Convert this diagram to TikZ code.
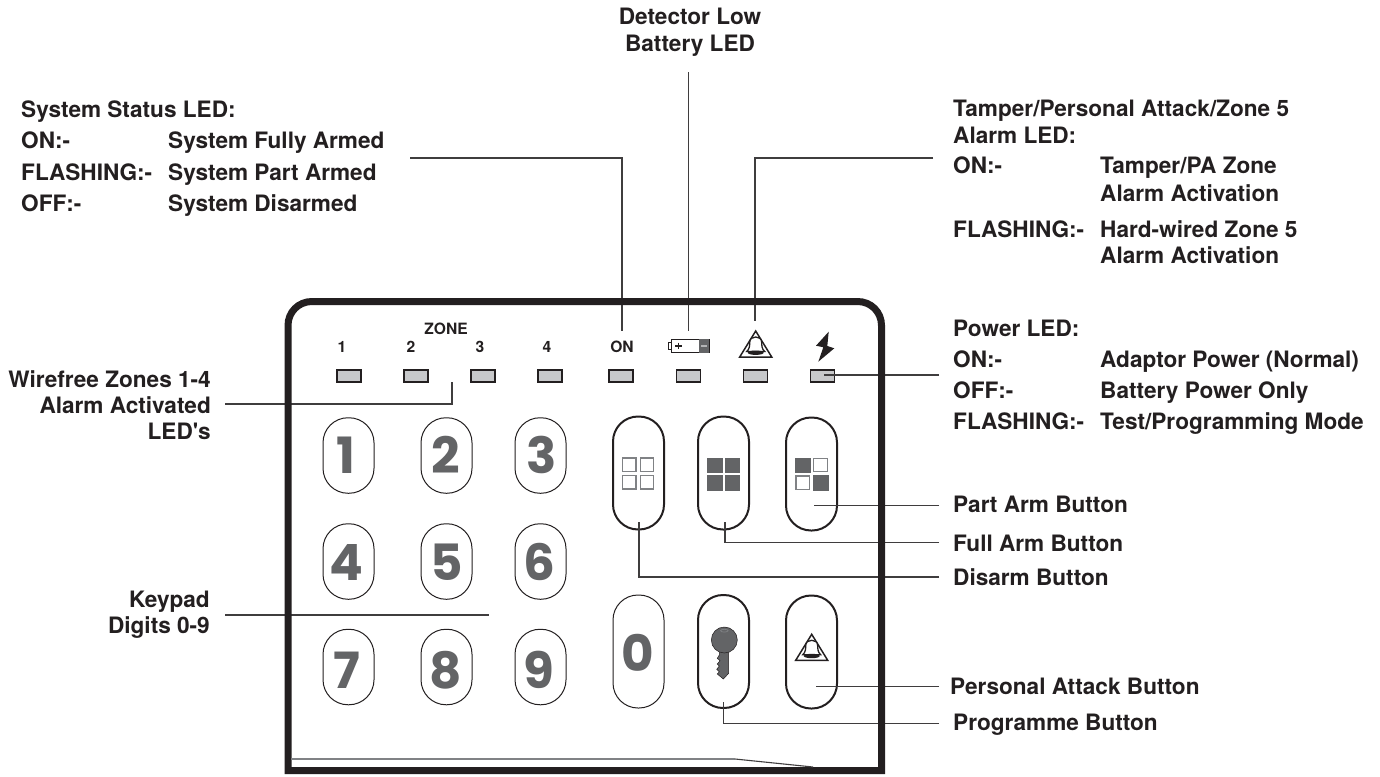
\documentclass[tikz,border=0pt]{standalone}
\usepackage{fontspec}
\newfontfamily\labfont{TeX Gyre Heros}
\newfontfamily\digitfont{Poppins}
\definecolor{ink}{HTML}{231F20}
\definecolor{digitgray}{HTML}{636466}
\definecolor{ledgray}{HTML}{C7C8CA}
\definecolor{leader}{HTML}{3F3D3E}
\definecolor{sq}{HTML}{808285}
\tikzset{
  lab/.style={anchor=base west,inner sep=0pt,text=ink,font=\fontsize{22.6}{24}\selectfont\labfont\bfseries},
  labr/.style={lab,anchor=base east},
  labc/.style={lab,anchor=base},
  small/.style={anchor=base,inner sep=0pt,text=ink,font=\fontsize{15.6}{17}\selectfont\labfont\bfseries},
  led/.style={draw=ink,fill=ledgray,line width=1.8pt,minimum width=24pt,minimum height=12.5pt,inner sep=0pt},
  keyoval/.style={draw=ink,line width=1pt,fill=white,minimum width=51pt,minimum height=75.5pt,inner sep=0pt,rounded corners=25pt},
  tallthin/.style={draw=ink,line width=1pt,fill=white,minimum width=51pt,minimum height=113pt,inner sep=0pt,rounded corners=25pt},
  tallthick/.style={tallthin,line width=2pt},
  digit/.style={anchor=base,inner sep=0pt,text=digitgray,font=\fontsize{50}{50}\selectfont\digitfont\bfseries},
  conn/.style={draw=leader,line width=1.3pt},
  sqopen/.style={draw=sq,fill=white,line width=1.2pt,minimum size=13.4pt,inner sep=0pt},
  sqfull/.style={draw=digitgray,fill=digitgray,line width=.4pt,minimum size=14.6pt,inner sep=0pt},
  alarm/.pic={
    \draw[ink,line width=1.5pt,fill=white,line join=miter] (0,0) -- (16,26) -- (-16,26) -- cycle;
    \draw[ink,line width=1.3pt,fill=white] (-9,20.5) .. controls (-6,18) and (-6,14) .. (-6,11.5) .. controls (-6,7.5) and (-3,6) .. (0,6) .. controls (3,6) and (6,7.5) .. (6,11.5) .. controls (6,14) and (6,18) .. (9,20.5) -- cycle;
    \fill[ink] (0,21.7) ellipse (8pt and 2.2pt);
  }
}
\begin{document}
\begin{tikzpicture}[x=1pt,y=-1pt]
\useasboundingbox (0,0) rectangle (1380,776);
\fill[white] (0,0) rectangle (1380,776);

% free ends of the connectors
\coordinate (cStatusL) at (410,158);
\coordinate (cStatusE) at (622,331);
\coordinate (cBatT) at (688.3,72);
\coordinate (cBatE) at (688.3,331);
\coordinate (cTamperR) at (933,158);
\coordinate (cTamperE) at (755,321);
\coordinate (cPowerR) at (939,375);
\coordinate (cPowerE) at (824,375);
\coordinate (cZoneL) at (225,404);
\coordinate (cZoneE) at (452,382);
\coordinate (cPadL) at (225,615);
\coordinate (cPadE) at (489,615);
\coordinate (cPartR) at (939,505.7);
\coordinate (cPartE) at (813.5,505.7);
\coordinate (cFullR) at (939,542.7);
\coordinate (cFullE) at (725,521.7);
\coordinate (cDisR) at (939,577);
\coordinate (cDisE) at (639,521.7);
\coordinate (cPersR) at (939,686.7);
\coordinate (cPersE) at (816,686.7);
\coordinate (cProgR) at (939,723.3);
\coordinate (cProgE) at (723.5,702);

% keys
\node[keyoval] (k1) at (348.5,455.5) {};
\node[keyoval] (k2) at (446.5,455.5) {};
\node[keyoval] (k3) at (540.5,455.5) {};
\node[keyoval] (k4) at (348.5,561.5) {};
\node[keyoval] (k5) at (446.5,561.5) {};
\node[keyoval] (k6) at (540.5,561.5) {};
\node[keyoval] (k7) at (348.5,667) {};
\node[keyoval] (k8) at (446.5,667) {};
\node[keyoval] (k9) at (540.5,667) {};
\node[tallthin] (k0) at (638.5,651.5) {};
\node[tallthick] (bProg) at (723.5,651.5) {};
\node[tallthick] (bPers) at (811.5,652) {};
\node[tallthick] (bDis) at (638.5,473) {};
\node[tallthick] (bFull) at (723.5,473) {};
\node[tallthick] (bPart) at (811.5,474) {};

\node[digit] (d1) at (345.7,473) {1};
\node[digit] (d2) at (446,473) {2};
\node[digit] (d3) at (541.7,473) {3};
\node[digit] (d4) at (346,580) {4};
\node[digit] (d5) at (446.7,580) {5};
\node[digit] (d6) at (539,580) {6};
\node[digit] (d7) at (346.7,688) {7};
\node[digit] (d8) at (446,688) {8};
\node[digit] (d9) at (539,688) {9};
\node[digit] (d0) at (638,671.7) {0};

% squares on the arm buttons
\node[sqopen] (s1) at (629.3,464.6) {};
\node[sqopen] (s2) at (647,464.6) {};
\node[sqopen] (s3) at (629.3,482.3) {};
\node[sqopen] (s4) at (647,482.3) {};
\node[sqfull] (s5) at (714.6,465) {};
\node[sqfull] (s6) at (732.3,465) {};
\node[sqfull] (s7) at (714.6,482.6) {};
\node[sqfull] (s8) at (732.3,482.6) {};
\node[sqfull] (s9) at (802.6,465) {};
\node[sqopen] (s10) at (820.5,465) {};
\node[sqopen] (s11) at (802.6,482.6) {};
\node[sqfull] (s12) at (820.5,482.6) {};

% key symbol
\fill[digitgray,draw=ink,line width=.5pt] (728.7,650) -- (728.7,673.3) -- (723.3,679) -- (717.3,674) -- (719.3,671.7) -- (716.7,669.3) -- (719.3,666) -- (717.3,664) -- (720,660.7) -- (717.3,658.3) -- (719.3,655) -- (719.3,650) -- cycle;
\fill[digitgray,draw=ink,line width=.5pt] (724.3,640) circle (13pt);
\draw[sq,line width=.7pt] (724.3,630.7) ellipse (3.8pt and 1.4pt);

% bell symbols
\pic at (811.7,634.3) {alarm};
\pic at (755.7,331) {alarm};

% lightning
\fill[ink] (828.7,331.7) -- (816,345.7) -- (823.3,347.3) -- (818.3,361.7) -- (834.3,348.3) -- (827.3,346) -- cycle;

% battery
\draw[ink,line width=.8pt,fill=white] (668,342.7) rectangle (671,349.3);
\draw[ink,line width=.9pt,fill=white] (671,339.3) rectangle (709,352.7);
\fill[digitgray] (699.3,339.3) rectangle (709,352.7);
\fill[sq!60] (701,345) rectangle (707,347);
\draw[ink,line width=1.6pt] (675,345.7) -- (681.5,345.7) (678.3,342.5) -- (678.3,349);

% LEDs
\node[led] (l1) at (349,376) {};
\node[led] (l2) at (416,376) {};
\node[led] (l3) at (483,376) {};
\node[led] (l4) at (550,376) {};
\node[led] (l5) at (621,376) {};
\node[led] (l6) at (688.5,376) {};
\node[led] (l7) at (755.5,376) {};
\node[led] (l8) at (822.5,376) {};

% panel texts
\node[small] (tZone) at (446,334.5) {ZONE};
\node[small] (t1) at (342,352.5) {1};
\node[small] (t2) at (411,352.5) {2};
\node[small] (t3) at (480,352.5) {3};
\node[small] (t4) at (547,352.5) {4};
\node[small] (tOn) at (622,352.5) {ON};

% connectors
\draw[conn] (cStatusL) -| (cStatusE);
\draw[conn] (cBatT) -- (cBatE);
\draw[conn] (cTamperR) -| (cTamperE);
\draw[conn] (cPowerR) -- (cPowerE);
\draw[conn] (cZoneL) -| (cZoneE);
\draw[conn] (cPadL) -- (cPadE);
\draw[conn] (cPartR) -- (cPartE);
\draw[conn] (cFullR) -| (cFullE);
\draw[conn] (cDisR) -| (cDisE);
\draw[conn] (cPersR) -- (cPersE);
\draw[conn] (cProgR) -| (cProgE);

% case
\draw[ink,line width=7pt,line join=miter] (288,770.5) -- (288,325.5) .. controls (288,312) and (298.5,301.5) .. (312,301.5) -- (857.5,301.5) .. controls (871,301.5) and (881.5,312) .. (881.5,325.5) -- (881.5,770.5) -- cycle;
\draw[sq,line width=1.3pt] (291,759) -- (735,759);
\draw[leader,line width=1.1pt] (735,759) -- (813,767);

% labels
\node[labc] (lbD1) at (690,25) {Detector Low};
\node[labc] (lbD2) at (690,52) {Battery LED};

\node[lab] (a0) at (21,117) {System Status LED:};
\node[lab] (a1) at (21,148.5) {ON:-};
\node[lab] (a2) at (168,148.5) {System Fully Armed};
\node[lab] (a3) at (21,180.5) {FLASHING:-};
\node[lab] (a4) at (168,180.5) {System Part Armed};
\node[lab] (a5) at (21,211) {OFF:-};
\node[lab] (a6) at (168,211) {System Disarmed};

\node[labr] (w1) at (211,387.5) {Wirefree Zones 1-4};
\node[labr] (w2) at (211,413.5) {Alarm Activated};
\node[labr] (w3) at (211,439) {LED's};
\node[labr] (p1) at (210,607.5) {Keypad};
\node[labr] (p2) at (210,633.5) {Digits 0-9};

\node[lab] (b0) at (953,116.2) {Tamper/Personal Attack/Zone 5};
\node[lab] (b1) at (953,143.2) {Alarm LED:};
\node[lab] (b2) at (953,173.5) {ON:-};
\node[lab] (b3) at (1100,173.5) {Tamper/PA Zone};
\node[lab] (b4) at (1100,201) {Alarm Activation};
\node[lab] (b5) at (953,237.5) {FLASHING:-};
\node[lab] (b6) at (1100,237.5) {Hard-wired Zone 5};
\node[lab] (b7) at (1100,263.5) {Alarm Activation};

\node[lab] (c0) at (953,336.2) {Power LED:};
\node[lab] (c1) at (953,367.2) {ON:-};
\node[lab] (c2) at (1100,367.2) {Adaptor Power (Normal)};
\node[lab] (c3) at (953,398.5) {OFF:-};
\node[lab] (c4) at (1100,398.5) {Battery Power Only};
\node[lab] (c5) at (953,429.5) {FLASHING:-};
\node[lab] (c6) at (1100,429.5) {Test/Programming Mode};

\node[lab] (e1) at (953,512.5) {Part Arm Button};
\node[lab] (e2) at (953,551) {Full Arm Button};
\node[lab] (e3) at (953,585.5) {Disarm Button};
\node[lab] (e4) at (950,694.5) {Personal Attack Button};
\node[lab] (e5) at (953,730.5) {Programme Button};
\end{tikzpicture}
\end{document}
